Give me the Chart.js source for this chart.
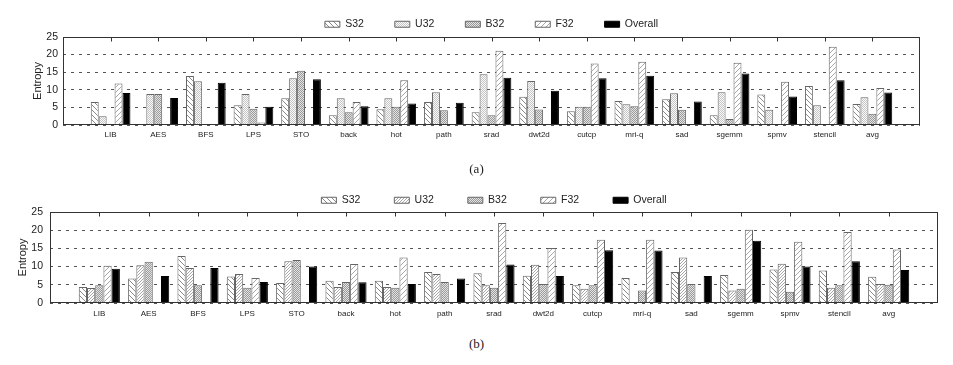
<!DOCTYPE html>
<html>
<head>
<meta charset="utf-8">
<script src="https://cdn.jsdelivr.net/npm/chart.js@4/dist/chart.umd.min.js"></script>
<style>
body { margin: 0; background: #fff; width: 953px; height: 365px; overflow: hidden; position: relative; }
.box { position: absolute; left: 0; width: 953px; }
#boxA { top: -12px; height: 160px; }
#boxB { top: 161px; height: 165px; }
.cap { position: absolute; left: 0; width: 953px; text-align: center; line-height: 16px;
       font: 13px 'Liberation Serif', 'DejaVu Serif', serif; color: #222; z-index: 2; }
</style>
</head>
<body>
<div class="box" id="boxA"><canvas id="chartA" width="953" height="160"></canvas></div>
<div class="cap" style="top:161px">(a)</div>
<div class="box" id="boxB"><canvas id="chartB" width="953" height="165"></canvas></div>
<div class="cap" style="top:336px">(b)</div>
<script>
const categories = ['LIB', 'AES', 'BFS', 'LPS', 'STO', 'back', 'hot', 'path', 'srad', 'dwt2d',
    'cutcp', 'mri-q', 'sad', 'sgemm', 'spmv', 'stencil', 'avg'];
const seriesNames = ['S32', 'U32', 'B32', 'F32', 'Overall'];
const yTicks = [0, 5, 10, 15, 20, 25];

// (a)
const s32A = [6.5, 0, 13.9, 5.6, 7.6, 2.8, 4.5, 6.5, 3.6, 8.0, 3.9, 6.8, 7.3, 2.8, 8.7, 11.1, 6.0];
const u32A = [2.5, 8.8, 12.4, 8.8, 13.3, 7.6, 7.6, 9.3, 14.4, 12.5, 5.2, 5.9, 9.0, 9.3, 4.3, 5.6, 7.9];
const b32A = [0.3, 8.8, 0, 4.6, 15.4, 3.6, 5.2, 4.2, 2.8, 4.4, 5.2, 5.3, 4.3, 1.7, 0, 0, 3.2];
const f32A = [11.8, 0, 0, 0.7, 0, 6.5, 12.7, 0, 21.1, 0, 17.5, 18.0, 0, 17.7, 12.3, 22.2, 10.5];
const overallA = [9.1, 7.7, 12.0, 5.2, 13.0, 5.3, 6.1, 6.3, 13.4, 9.7, 13.3, 14.0, 6.7, 14.6, 8.1, 12.7, 9.2];

// (b)
const s32B = [4.4, 6.7, 12.9, 7.3, 5.5, 6.1, 6.1, 8.5, 8.2, 7.5, 4.9, 6.9, 8.5, 7.7, 9.2, 8.9, 7.2];
const u32B = [4.1, 10.4, 9.6, 8.0, 11.5, 4.4, 4.4, 8.0, 4.9, 10.5, 3.9, 0.1, 12.5, 3.4, 10.8, 4.2, 5.2];
const b32B = [4.9, 11.3, 4.9, 4.2, 11.8, 5.8, 4.2, 5.8, 4.2, 5.2, 4.9, 3.4, 5.2, 3.9, 3.1, 4.9, 5.0];
const f32B = [10.2, 0, 0, 6.9, 0, 10.7, 12.5, 0, 22.0, 15.1, 17.4, 17.4, 0, 20.1, 16.8, 19.5, 14.7];
const overallB = [9.4, 7.4, 9.6, 5.8, 10.0, 5.7, 5.2, 6.7, 10.6, 7.4, 14.5, 14.4, 7.4, 17.1, 10.0, 11.5, 9.1];

Chart.defaults.font.family = '"Liberation Sans", Arial, sans-serif';
Chart.defaults.color = '#222';

function hatch(gap, color, forward) {
    const c = document.createElement('canvas');
    c.width = gap; c.height = gap;
    const g = c.getContext('2d');
    g.fillStyle = '#fff';
    g.fillRect(0, 0, gap, gap);
    g.strokeStyle = color;
    g.lineWidth = 1;
    g.beginPath();
    for (let k = -1; k <= 1; k++) {
        if (forward) {
            g.moveTo(k * gap, gap); g.lineTo(k * gap + gap, 0);
        } else {
            g.moveTo(k * gap, 0); g.lineTo(k * gap + gap, gap);
        }
    }
    g.stroke();
    return g.createPattern(c, 'repeat');
}

function checker(fg, bg) {
    const c = document.createElement('canvas');
    c.width = 2; c.height = 2;
    const g = c.getContext('2d');
    g.fillStyle = bg;
    g.fillRect(0, 0, 2, 2);
    g.fillStyle = fg;
    g.fillRect(0, 0, 1, 1);
    g.fillRect(1, 1, 1, 1);
    return g.createPattern(c, 'repeat');
}

const fillS32 = hatch(5, '#8a8a8a', false);
const fillB32 = checker('#9a9a9a', '#e4e4e4');
const fillF32 = hatch(5, '#a8a8a8', true);
const fillU32A = checker('#c4c4c4', '#fafafa');
const fillU32B = hatch(3, '#a8a8a8', true);

const framePlugin = {
    id: 'frame',
    afterDatasetsDraw(chart) {
        const {ctx, chartArea: a, scales: {x}} = chart;
        const l = Math.round(a.left) + 0.5, r = Math.round(a.right) - 0.5;
        const t = Math.round(a.top) + 0.5, b = Math.round(a.bottom) - 0.5;
        ctx.save();
        ctx.strokeStyle = '#333';
        ctx.lineWidth = 1;
        ctx.strokeRect(l, t, r - l, b - t);
        ctx.beginPath();
        categories.forEach((c, i) => {
            const px = Math.round(x.getPixelForValue(i)) + 0.5;
            ctx.moveTo(px, t);
            ctx.lineTo(px, t + 4);
        });
        ctx.stroke();
        ctx.restore();
    }
};

function makeChart(id, series, fills, cfg) {
    const datasets = series.map((vals, k) => ({
        label: seriesNames[k],
        data: vals.map((v, i) => ({x: i, y: v})),
        backgroundColor: fills[k],
        borderColor: k === 4 ? '#000' : '#666',
        borderWidth: 1,
        categoryPercentage: 5 / 6,
        barPercentage: 1
    }));
    return new Chart(document.getElementById(id).getContext('2d'), {
        type: 'bar',
        data: {datasets},
        plugins: [framePlugin],
        options: {
            responsive: false,
            animation: false,
            layout: {padding: cfg.padding},
            scales: {
                x: {
                    type: 'linear',
                    offset: false,
                    min: -1,
                    max: categories.length,
                    grid: {display: false, drawTicks: false},
                    border: {display: false},
                    afterFit(scale) { scale.height = 20; },
                    ticks: {
                        stepSize: 1,
                        autoSkip: false,
                        maxRotation: 0,
                        padding: cfg.xPad,
                        font: {size: 8},
                        callback: v => categories[v] ?? ''
                    }
                },
                y: {
                    min: yTicks[0],
                    max: yTicks[yTicks.length - 1],
                    afterFit(scale) { scale.width = cfg.yWidth; },
                    grid: {
                        color: '#555',
                        drawTicks: false
                    },
                    border: {display: false, dash: [3, 5]},
                    ticks: {
                        stepSize: 5,
                        padding: cfg.yPad,
                        font: {size: 10.5}
                    },
                    title: {
                        display: true,
                        text: 'Entropy',
                        padding: 0,
                        font: {size: 11}
                    }
                }
            },
            plugins: {
                tooltip: {enabled: false},
                legend: {
                    position: 'top',
                    fullSize: false,
                    maxHeight: cfg.legendHeight,
                    labels: {
                        boxWidth: 15,
                        boxHeight: 6,
                        padding: cfg.legendPad,
                        font: {size: 10.5}
                    }
                }
            }
        }
    });
}

makeChart('chartA', [s32A, u32A, b32A, f32A, overallA],
    [fillS32, fillU32A, fillB32, fillF32, '#000'],
    {padding: {top: 0, left: 31, right: 33, bottom: 3}, yWidth: 32, yPad: 5, xPad: 5,
     legendPad: 31, legendHeight: 49});

makeChart('chartB', [s32B, u32B, b32B, f32B, overallB],
    [fillS32, fillU32B, fillB32, fillF32, '#000'],
    {padding: {top: 0, left: 16, right: 15, bottom: 3}, yWidth: 34, yPad: 7, xPad: 6,
     legendPad: 34, legendHeight: 51});
</script>
</body>
</html>
